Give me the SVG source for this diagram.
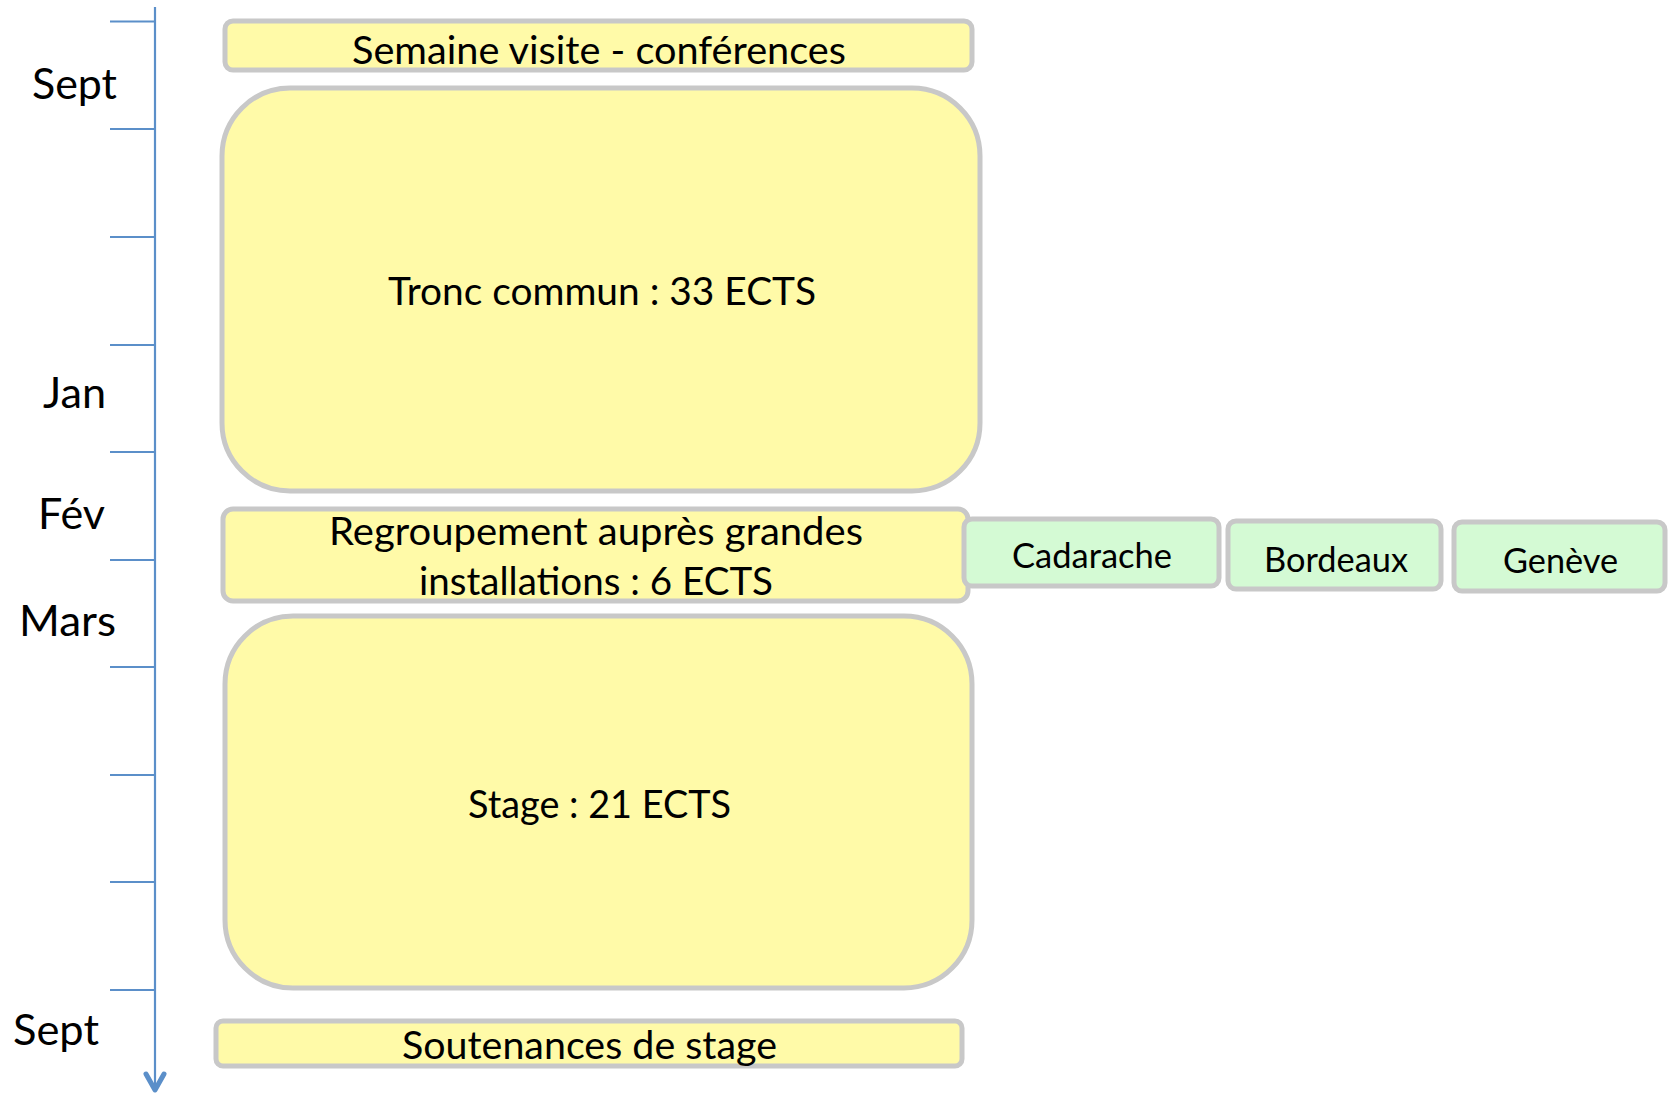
<svg xmlns="http://www.w3.org/2000/svg" width="1675" height="1095" viewBox="0 0 1675 1095">
<style>
.box{fill:#fffaa8;stroke:#c8c8c8;stroke-width:5}
.gbox{fill:#d4fad4;stroke:#c8c8c8;stroke-width:5}
.axis{stroke:#5b8fc9;stroke-width:2.2;fill:none}
.head{stroke:#5b8fc9;stroke-width:5;fill:none;stroke-linecap:round;stroke-linejoin:round}
text{font-family:Lato,"Open Sans","Liberation Sans",sans-serif;fill:#000}
.lbl{font-size:42px}
.t{font-size:39px}
.g{font-size:34px}
</style>
<rect width="1675" height="1095" fill="#fff"/>
<g id="timeline">
<line class="axis" x1="155" y1="7" x2="155" y2="1090"/>
<path class="axis" d="M110 21.5H155M110 129H155M110 237H155M110 345H155M110 452H155M110 560H155M110 667H155M110 775H155M110 882H155M110 990H155"/>
<polyline class="head" points="146,1074 155,1090 164,1074"/>
</g>
<g id="labels">
<text class="lbl" x="32" y="99" textLength="85" lengthAdjust="spacingAndGlyphs">Sept</text>
<text class="lbl" x="43" y="408" textLength="63" lengthAdjust="spacingAndGlyphs">Jan</text>
<text class="lbl" x="38" y="529" textLength="67" lengthAdjust="spacingAndGlyphs">Fév</text>
<text class="lbl" x="19" y="636" textLength="97" lengthAdjust="spacingAndGlyphs">Mars</text>
<text class="lbl" x="13" y="1045" textLength="86" lengthAdjust="spacingAndGlyphs">Sept</text>
</g>
<g id="connectors"></g>
<g id="semaine">
<rect class="box" x="225" y="21" width="747" height="49" rx="8"/>
<text class="t" x="352" y="64" textLength="494" lengthAdjust="spacingAndGlyphs">Semaine visite - conférences</text>
</g>
<g id="tronc">
<rect class="box" x="222" y="88" width="758" height="403" rx="68"/>
<text class="t" x="388" y="305" textLength="428" lengthAdjust="spacingAndGlyphs">Tronc commun : 33 ECTS</text>
</g>
<g id="regroupement">
<rect class="box" x="223" y="509" width="745" height="92" rx="10"/>
<text class="t" x="329" y="545" textLength="534" lengthAdjust="spacingAndGlyphs">Regroupement auprès grandes</text>
<text class="t" x="419" y="595" textLength="354" lengthAdjust="spacingAndGlyphs">installations : 6 ECTS</text>
</g>
<g id="cadarache">
<rect class="gbox" x="964" y="519" width="255" height="67" rx="8"/>
<text class="g" x="1012" y="568" textLength="160" lengthAdjust="spacingAndGlyphs">Cadarache</text>
</g>
<g id="bordeaux">
<rect class="gbox" x="1228" y="521" width="213" height="68" rx="8"/>
<text class="g" x="1264" y="572" textLength="144" lengthAdjust="spacingAndGlyphs">Bordeaux</text>
</g>
<g id="geneve">
<rect class="gbox" x="1454" y="522" width="211" height="69" rx="8"/>
<text class="g" x="1503" y="573" textLength="115" lengthAdjust="spacingAndGlyphs">Genève</text>
</g>
<g id="stage">
<rect class="box" x="225" y="616" width="747" height="372" rx="68"/>
<text class="t" x="468" y="818" textLength="263" lengthAdjust="spacingAndGlyphs">Stage : 21 ECTS</text>
</g>
<g id="soutenances">
<rect class="box" x="216" y="1021" width="746" height="45" rx="7"/>
<text class="t" x="402" y="1059" textLength="375" lengthAdjust="spacingAndGlyphs">Soutenances de stage</text>
</g>
</svg>
